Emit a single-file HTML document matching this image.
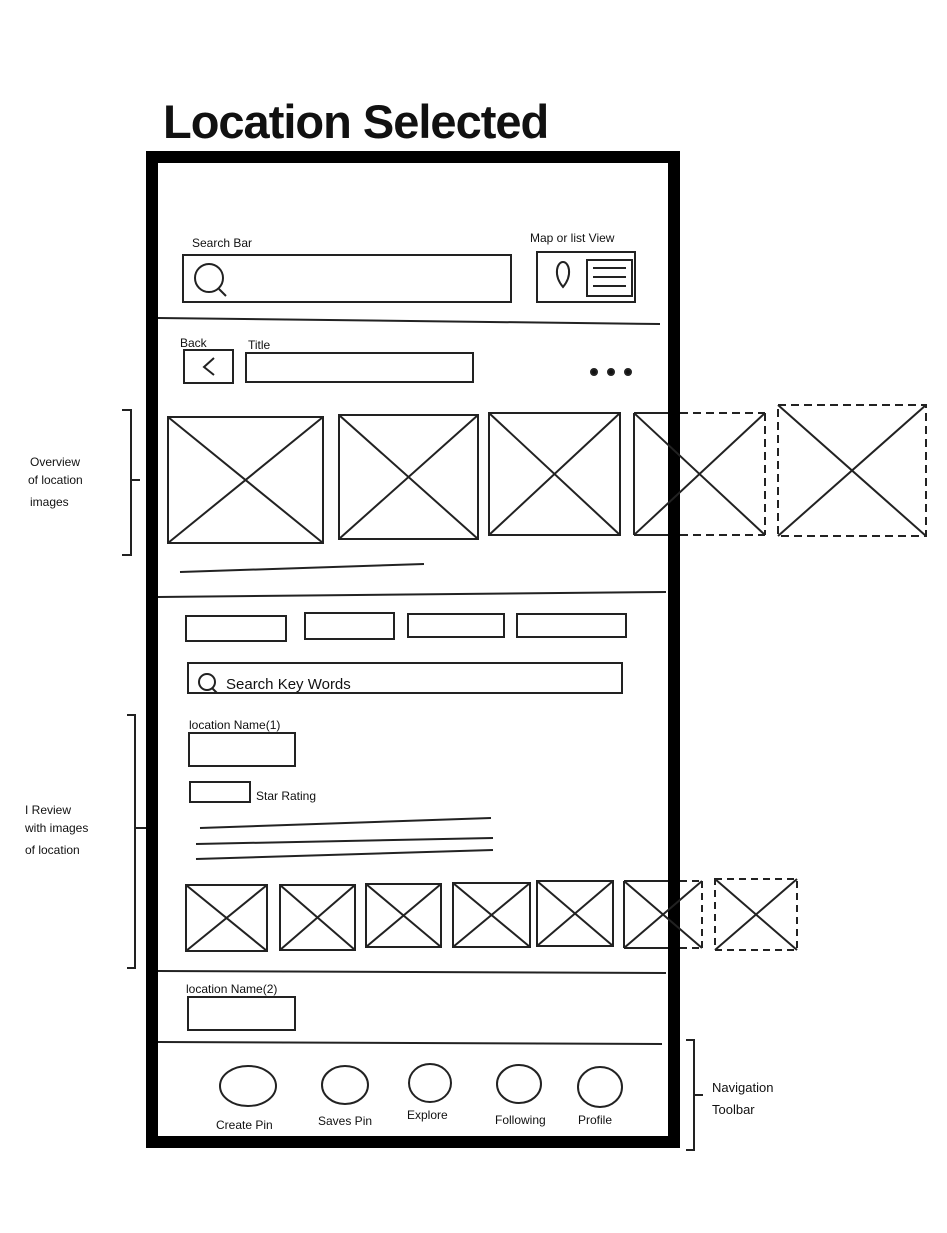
<!DOCTYPE html>
<html><head><meta charset="utf-8"><style>
html,body{margin:0;padding:0;background:#fff;}
svg{display:block}
text{font-family:"Liberation Sans",sans-serif;fill:#111}
</style></head><body>
<svg width="947" height="1233" viewBox="0 0 947 1233" xmlns="http://www.w3.org/2000/svg" fill="none" stroke="#222" stroke-width="2">
<text x="163" y="138" font-size="47" font-weight="bold" stroke="none" style="letter-spacing:-1px">Location Selected</text>
<!-- phone frame -->
<rect x="152" y="157" width="522" height="985" stroke="#000" stroke-width="12"/>
<!-- search -->
<text x="192" y="247" font-size="12" stroke="none">Search Bar</text>
<rect x="183" y="255" width="328" height="47"/>
<circle cx="209" cy="278" r="14"/><line x1="219" y1="289" x2="226" y2="296"/>
<text x="530" y="242" font-size="12" stroke="none">Map or list View</text>
<rect x="537" y="252" width="98" height="50"/>
<path d="M563 287 C553 275,557 262,563 262 C569 262,573 275,563 287Z"/>
<rect x="587" y="260" width="45" height="36"/>
<line x1="593" y1="268" x2="626" y2="268"/><line x1="593" y1="277" x2="626" y2="277"/><line x1="593" y1="286" x2="626" y2="286"/>
<line x1="158" y1="318" x2="660" y2="324"/>
<!-- back/title -->
<text x="180" y="347" font-size="12" stroke="none">Back</text>
<rect x="184" y="350" width="49" height="33"/>
<polyline points="214,358 204,367 214,375"/>
<text x="248" y="349" font-size="12" stroke="none">Title</text>
<rect x="246" y="353" width="227" height="29"/>
<circle cx="594" cy="372" r="3" fill="#111"/><circle cx="611" cy="372" r="3" fill="#111"/><circle cx="628" cy="372" r="3" fill="#111"/>
<!-- images -->
<g>
<rect x="168" y="417" width="155" height="126"/><line x1="168" y1="417" x2="323" y2="543"/><line x1="323" y1="417" x2="168" y2="543"/>
<rect x="339" y="415" width="139" height="124"/><line x1="339" y1="415" x2="478" y2="539"/><line x1="478" y1="415" x2="339" y2="539"/>
<rect x="489" y="413" width="131" height="122"/><line x1="489" y1="413" x2="620" y2="535"/><line x1="620" y1="413" x2="489" y2="535"/>
<line x1="634" y1="413" x2="668" y2="413"/><line x1="634" y1="413" x2="634" y2="535"/><line x1="634" y1="535" x2="668" y2="535"/>
<line x1="634" y1="413" x2="765" y2="535"/><line x1="765" y1="413" x2="634" y2="535"/>
<g stroke-dasharray="8,5"><line x1="680" y1="413" x2="765" y2="413"/><line x1="765" y1="413" x2="765" y2="535"/><line x1="680" y1="535" x2="765" y2="535"/>
<rect x="778" y="405" width="148" height="131"/></g>
<line x1="778" y1="405" x2="926" y2="536"/><line x1="926" y1="405" x2="778" y2="536"/>
</g>
<line x1="180" y1="572" x2="424" y2="564"/>
<line x1="158" y1="597" x2="666" y2="592"/>
<path d="M122 410 H131 V555 H122 M131 480 H140"/>
<text x="30" y="466" font-size="12" stroke="none">Overview</text>
<text x="28" y="484" font-size="12" stroke="none">of location</text>
<text x="30" y="506" font-size="12" stroke="none">images</text>
<!-- tabs -->
<rect x="186" y="616" width="100" height="25"/><rect x="305" y="613" width="89" height="26"/>
<rect x="408" y="614" width="96" height="23"/><rect x="517" y="614" width="109" height="23"/>
<rect x="188" y="663" width="434" height="30"/>
<circle cx="207" cy="682" r="8"/><line x1="212" y1="688" x2="217" y2="693"/>
<text x="226" y="689" font-size="15" stroke="none">Search Key Words</text>
<!-- review -->
<text x="189" y="729" font-size="12" stroke="none">location Name(1)</text>
<rect x="189" y="733" width="106" height="33"/>
<rect x="190" y="782" width="60" height="20"/>
<text x="256" y="800" font-size="12" stroke="none">Star Rating</text>
<line x1="200" y1="828" x2="491" y2="818"/><line x1="196" y1="844" x2="493" y2="838"/><line x1="196" y1="859" x2="493" y2="850"/>
<g>
<rect x="186" y="885" width="81" height="66"/><line x1="186" y1="885" x2="267" y2="951"/><line x1="267" y1="885" x2="186" y2="951"/>
<rect x="280" y="885" width="75" height="65"/><line x1="280" y1="885" x2="355" y2="950"/><line x1="355" y1="885" x2="280" y2="950"/>
<rect x="366" y="884" width="75" height="63"/><line x1="366" y1="884" x2="441" y2="947"/><line x1="441" y1="884" x2="366" y2="947"/>
<rect x="453" y="883" width="77" height="64"/><line x1="453" y1="883" x2="530" y2="947"/><line x1="530" y1="883" x2="453" y2="947"/>
<rect x="537" y="881" width="76" height="65"/><line x1="537" y1="881" x2="613" y2="946"/><line x1="613" y1="881" x2="537" y2="946"/>
<line x1="624" y1="881" x2="668" y2="881"/><line x1="624" y1="881" x2="624" y2="948"/><line x1="624" y1="948" x2="668" y2="948"/>
<line x1="624" y1="881" x2="702" y2="948"/><line x1="702" y1="881" x2="624" y2="948"/>
<g stroke-dasharray="7,5"><line x1="680" y1="881" x2="702" y2="881"/><line x1="702" y1="881" x2="702" y2="948"/><line x1="680" y1="948" x2="702" y2="948"/>
<rect x="715" y="879" width="82" height="71"/></g>
<line x1="715" y1="879" x2="797" y2="950"/><line x1="797" y1="879" x2="715" y2="950"/>
</g>
<path d="M127 715 H135 V968 H127 M135 828 H146"/>
<text x="25" y="814" font-size="12" stroke="none">I Review</text>
<text x="25" y="832" font-size="12" stroke="none">with images</text>
<text x="25" y="854" font-size="12" stroke="none">of location</text>
<line x1="158" y1="971" x2="666" y2="973"/>
<text x="186" y="993" font-size="12" stroke="none">location Name(2)</text>
<rect x="188" y="997" width="107" height="33"/>
<line x1="158" y1="1042" x2="662" y2="1044"/>
<!-- nav -->
<ellipse cx="248" cy="1086" rx="28" ry="20"/><ellipse cx="345" cy="1085" rx="23" ry="19"/>
<ellipse cx="430" cy="1083" rx="21" ry="19"/><ellipse cx="519" cy="1084" rx="22" ry="19"/>
<ellipse cx="600" cy="1087" rx="22" ry="20"/>
<text x="216" y="1129" font-size="12" stroke="none">Create Pin</text>
<text x="318" y="1125" font-size="12" stroke="none">Saves Pin</text>
<text x="407" y="1119" font-size="12" stroke="none">Explore</text>
<text x="495" y="1124" font-size="12" stroke="none">Following</text>
<text x="578" y="1124" font-size="12" stroke="none">Profile</text>
<path d="M686 1040 H694 V1150 H686 M694 1095 H703"/>
<text x="712" y="1092" font-size="13" stroke="none">Navigation</text>
<text x="712" y="1114" font-size="13" stroke="none">Toolbar</text>
</svg>
</body></html>
